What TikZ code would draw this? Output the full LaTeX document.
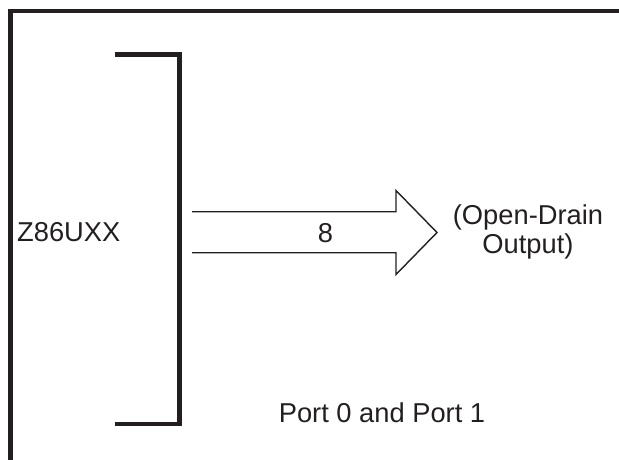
\documentclass[tikz,border=0pt]{standalone}
\usepackage{fontspec}
\setmainfont{Liberation Sans}
\definecolor{ink}{HTML}{231F20}
\begin{document}
\begin{tikzpicture}[x=1pt,y=-1pt,
  heavy/.style={draw=ink,line width=4.5pt},
  thin/.style={draw=ink,line width=1.4pt,miter limit=10},
  lbl/.style={text=ink,inner sep=0pt,font=\fontsize{27.3}{29}\selectfont,align=center}]
\useasboundingbox (0,0) rectangle (619,460);
% frame
\draw[heavy] (10.5,465) -- (10.5,11) -- (625,11);
% bracket
\coordinate (bt) at (115,54.5);
\coordinate (bb) at (115,424);
\draw[heavy] (bt) -- (179.5,54.5) -- (179.5,424) -- (bb);
% bus arrow
\coordinate (a1) at (192,211.7);
\coordinate (a2) at (192,252.7);
\coordinate (tip) at (437,232.5);
\draw[thin] (a1) -- (396,211.7) -- (396,190.5) -- (tip) -- (396,274.5) -- (396,252.7) -- (a2);
% labels
\node[lbl,anchor=west] (chip) at (17,232) {Z86UXX};
\node[lbl] (bus) at (325.5,233) {8};
\node[lbl] (out) at (528,231.5) {(Open-Drain\\Output)};
\node[lbl] (port) at (382,413) {Port 0 and Port 1};
\end{tikzpicture}
\end{document}
